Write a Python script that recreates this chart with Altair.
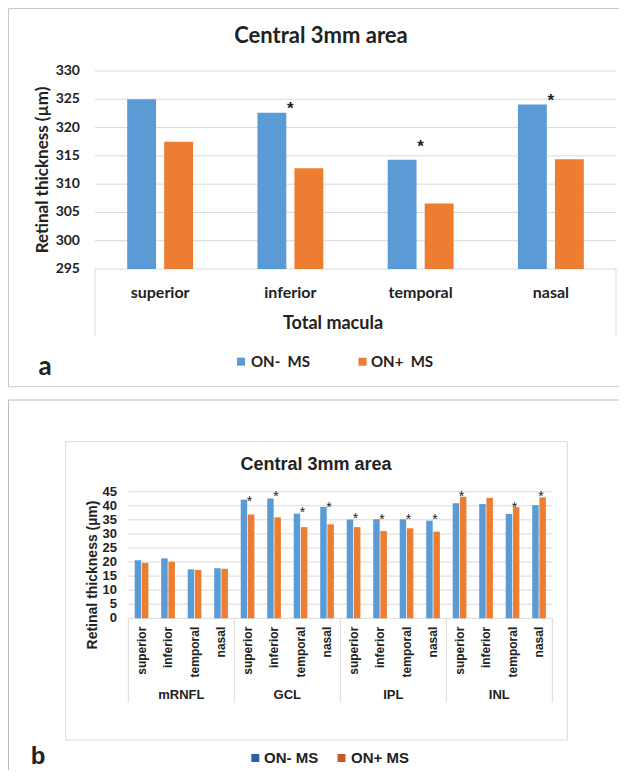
import altair as alt
import pandas as pd

# ---------------- data ----------------
regions = ["superior", "inferior", "temporal", "nasal"]
groups = ["ON- MS", "ON+ MS"]

# panel a: total macula thickness, central 3mm
a_on_minus = [325.0, 322.6, 314.3, 324.1]
a_on_plus = [317.5, 312.8, 306.6, 314.4]
a_star_pos = [None, 324.2, 317.4, 325.6]
a_ticks = [295, 300, 305, 310, 315, 320, 325, 330]

# panel b: layer thickness
b_layers = ["mRNFL", "GCL", "IPL", "INL"]
b_on_minus = [20.6, 21.3, 17.4, 17.8, 42.2, 42.6, 37.2, 39.6,
              35.1, 35.2, 35.2, 34.7, 40.9, 40.6, 37.1, 40.2]
b_on_plus = [19.7, 20.1, 17.2, 17.6, 36.9, 35.9, 32.4, 33.4,
             32.4, 31.0, 32.0, 30.8, 43.2, 42.8, 39.5, 43.0]
b_star_pos = [None, None, None, None, 42.7, 44.7, 38.7, 40.5,
              36.6, 36.4, 36.4, 36.4, 44.7, None, 40.5, 44.7]
b_ticks = [0, 5, 10, 15, 20, 25, 30, 35, 40, 45]

BLUE, ORANGE = "#5b9bd5", "#ed7d31"
LEG_BLUE_B, LEG_ORANGE_B = "#2e5ea8", "#c65a1e"
TXT = "#222222"
GRID = "#d9d9d9"

# ---------------- layout (pixels inside the chart) ----------------
A_X0, A_X1 = 87, 608
A_YB, A_YT = 261, 63
B_X0, B_X1 = 120.3, 544.3
B_YB, B_YT = 610.3, 483.7

dummy = pd.DataFrame({"d": [0]})

# ---------------- panel a ----------------
a_bar_df = pd.DataFrame({
    "region": regions * 2,
    "series": [groups[0]] * 4 + [groups[1]] * 4,
    "value": a_on_minus + a_on_plus,
})
a_star_df = pd.DataFrame({"region": regions, "pos": a_star_pos}).dropna()
a_tick_df = pd.DataFrame({"t": a_ticks})

a_x = alt.Scale(domain=regions, range=[A_X0, A_X1], paddingInner=0, paddingOuter=0)
a_y = alt.Scale(domain=[295, 330], range=[A_YB, A_YT], nice=False, zero=False)
a_col = alt.Scale(domain=groups, range=[BLUE, ORANGE])

a_grid = alt.Chart(a_tick_df).mark_rule(color=GRID, strokeWidth=1).encode(
    y=alt.Y("t:Q", scale=a_y, axis=None), x=alt.value(A_X0), x2=alt.value(A_X1))
a_bars = alt.Chart(a_bar_df).mark_bar().encode(
    x=alt.X("region:N", scale=a_x, axis=None),
    xOffset=alt.XOffset("series:N", scale=alt.Scale(domain=groups, paddingInner=0.22, paddingOuter=0.87)),
    y=alt.Y("value:Q", scale=a_y, axis=None),
    y2=alt.datum(295),
    color=alt.Color("series:N", scale=a_col, legend=None))
a_ticklab = alt.Chart(a_tick_df).mark_text(
    align="right", baseline="middle", font="Lato", fontWeight="bold", fontSize=14, color=TXT).encode(
    y=alt.Y("t:Q", scale=a_y, axis=None), x=alt.value(72), text=alt.Text("t:Q"))
a_catlab = alt.Chart(pd.DataFrame({"region": regions})).mark_text(
    align="center", baseline="middle", font="Lato", fontWeight="bold", fontSize=16, color=TXT).encode(
    x=alt.X("region:N", scale=a_x, axis=None), y=alt.value(285), text="region:N")
a_stars = alt.Chart(a_star_df).mark_text(
    text="*", align="center", baseline="alphabetic", dy=10, font="Liberation Sans", fontWeight="bold",
    fontSize=17, color=TXT).encode(
    x=alt.X("region:N", scale=a_x, axis=None), y=alt.Y("pos:Q", scale=a_y, axis=None))
panel_a = alt.layer(a_grid, a_bars, a_ticklab, a_catlab, a_stars)

# ---------------- panel b ----------------
cats = [f"{l}|{r}" for l in b_layers for r in regions]
b_bar_df = pd.DataFrame({
    "cat": cats * 2,
    "series": [groups[0]] * 16 + [groups[1]] * 16,
    "value": b_on_minus + b_on_plus,
})
b_lab_df = pd.DataFrame({"cat": cats, "region": regions * 4})
b_star_df = pd.DataFrame({"cat": cats, "pos": b_star_pos}).dropna()
b_grp_df = pd.DataFrame({"cat": [f"{l}|inferior" for l in b_layers], "layer": b_layers})
b_tick_df = pd.DataFrame({"t": b_ticks})

b_x = alt.Scale(domain=cats, range=[B_X0, B_X1], paddingInner=0, paddingOuter=0)
b_y = alt.Scale(domain=[0, 45], range=[B_YB, B_YT], nice=False, zero=False)
b_col = alt.Scale(domain=groups, range=[BLUE, ORANGE])
BAND_B = (B_X1 - B_X0) / 16

b_grid = alt.Chart(b_tick_df).mark_rule(color=GRID, strokeWidth=1).encode(
    y=alt.Y("t:Q", scale=b_y, axis=None), x=alt.value(B_X0), x2=alt.value(B_X1))
b_bars = alt.Chart(b_bar_df).mark_bar().encode(
    x=alt.X("cat:N", scale=b_x, axis=None),
    xOffset=alt.XOffset("series:N", scale=alt.Scale(domain=groups, paddingInner=0.1, paddingOuter=0.89)),
    y=alt.Y("value:Q", scale=b_y, axis=None),
    y2=alt.datum(0),
    color=alt.Color("series:N", scale=b_col, legend=None))
b_ticklab = alt.Chart(b_tick_df).mark_text(
    align="right", baseline="middle", font="Liberation Sans", fontWeight="bold", fontSize=13, color=TXT).encode(
    y=alt.Y("t:Q", scale=b_y, axis=None), x=alt.value(109), text=alt.Text("t:Q"))
b_catlab = alt.Chart(b_lab_df).mark_text(
    angle=270, align="right", baseline="middle", font="Liberation Sans", fontWeight="bold",
    fontSize=12, color=TXT).encode(
    x=alt.X("cat:N", scale=b_x, axis=None), y=alt.value(618.7), text="region:N")
b_grplab = alt.Chart(b_grp_df).mark_text(
    align="center", baseline="middle", dx=BAND_B / 2, font="Liberation Sans", fontWeight="bold",
    fontSize=13, color=TXT).encode(
    x=alt.X("cat:N", scale=b_x, axis=None), y=alt.value(687), text="layer:N")
b_stars = alt.Chart(b_star_df).mark_text(
    text="*", align="center", baseline="alphabetic", dx=2, dy=8, font="Liberation Sans",
    fontSize=14, color=TXT).encode(
    x=alt.X("cat:N", scale=b_x, axis=None), y=alt.Y("pos:Q", scale=b_y, axis=None))
panel_b = alt.layer(b_grid, b_bars, b_ticklab, b_catlab, b_grplab, b_stars)

# ---------------- decorations ----------------
def box(x0, y0, x1, y1, color):
    return alt.Chart(dummy).mark_rect(filled=False, stroke=color, strokeWidth=1).encode(
        x=alt.value(x0), x2=alt.value(x1), y=alt.value(y0), y2=alt.value(y1))

def vline(x, y0, y1, color=GRID):
    return alt.Chart(dummy).mark_rule(color=color, strokeWidth=1).encode(
        x=alt.value(x), y=alt.value(y0), y2=alt.value(y1))

def txt(text, x, y, font, size, angle=0, align="center", baseline="middle"):
    return alt.Chart(dummy).mark_text(
        text=text, font=font, fontSize=size, fontWeight="bold", angle=angle,
        align=align, baseline=baseline, color=TXT).encode(x=alt.value(x), y=alt.value(y))

def square(x, y, color, side):
    return alt.Chart(dummy).mark_rect(color=color).encode(
        x=alt.value(x - side / 2), x2=alt.value(x + side / 2),
        y=alt.value(y - side / 2), y2=alt.value(y + side / 2))

deco = [
    box(0.5, 0.5, 660, 378.7, "#c8c8c8"),
    box(0.5, 392, 660, 820, "#bdbdbd"),
    box(57.7, 433.7, 559.3, 732, GRID),
    vline(A_X0, A_YB, 328.7), vline(A_X1, A_YB, 328.7),
]
for i in range(5):
    deco.append(vline(B_X0 + i * 4 * BAND_B, B_YB, 694.7))

deco += [
    txt("Central 3mm area", 313, 35, "Lato", 22, baseline="alphabetic"),
    txt("Retinal thickness (µm)", 35, 162, "Lato", 17, angle=270),
    txt("Total macula", 325, 316, "Lato", 18),
    square(233, 353.7, BLUE, 8),
    txt("ON-\u00a0\u00a0MS", 243, 354, "Lato", 15, align="left"),
    square(354.5, 353.7, ORANGE, 8),
    txt("ON+\u00a0\u00a0MS", 363, 354, "Lato", 15, align="left"),
    txt("a", 37, 358.7, "Lato", 26),
    txt("Central 3mm area", 308, 462, "Liberation Sans", 18, baseline="alphabetic"),
    txt("Retinal thickness (µm)", 85, 567, "Liberation Sans", 14, angle=270),
    square(247.3, 750, LEG_BLUE_B, 8),
    txt("ON- MS", 256, 750, "Liberation Sans", 15, align="left"),
    square(333.5, 750, LEG_ORANGE_B, 8),
    txt("ON+ MS", 343, 750, "Liberation Sans", 15, align="left"),
    txt("b", 30, 748.7, "Liberation Sans", 24),
]

chart = alt.layer(*deco, panel_a, panel_b).resolve_scale(
    x="independent", y="independent", xOffset="independent", color="independent"
).properties(
    width=611, height=762, autosize=alt.AutoSizeParams(type="none"), padding=0
).configure_view(stroke=None)

chart.save("out.html", embed_options={"renderer": "svg", "actions": False})
